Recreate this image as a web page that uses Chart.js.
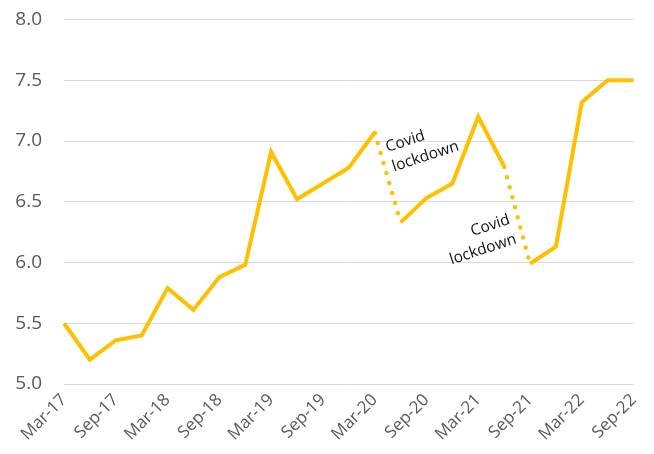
<!DOCTYPE html>
<html>
<head>
<meta charset="utf-8">
<script src="https://cdn.jsdelivr.net/npm/chart.js@4.4.0/dist/chart.umd.min.js"></script>
<style>
  html, body { margin: 0; padding: 0; background: #fff; }
  #wrap { width: 654px; height: 454px; }
</style>
</head>
<body>
<div id="wrap"><canvas id="myChart"></canvas></div>
<script>
// quarterly readings, Mar-17 .. Sep-22
var categories = ['Mar-17','Jun-17','Sep-17','Dec-17','Mar-18','Jun-18','Sep-18','Dec-18',
    'Mar-19','Jun-19','Sep-19','Dec-19','Mar-20','Jun-20','Sep-20','Dec-20',
    'Mar-21','Jun-21','Sep-21','Dec-21','Mar-22','Jun-22','Sep-22'];
var values = [5.50, 5.20, 5.36, 5.40, 5.79, 5.61, 5.88, 5.98,
    6.91, 6.52, 6.65, 6.78, 7.07, 6.33, 6.53, 6.65,
    7.20, 6.79, 5.99, 6.13, 7.32, 7.50, 7.50];
var yTicks = [5.0, 5.5, 6.0, 6.5, 7.0, 7.5, 8.0];
// segments starting at these indices are drawn dotted
var lockdownSegments = [12, 17];
// text notes, anchored in data units (x = category index, y = value)
var notes = [
    { lines: ['Covid', 'lockdown'], x: 12.5, y: 6.91, align: 'left' },
    { lines: ['Covid', 'lockdown'], x: 17.26, y: 6.32, align: 'right' }
];

var gold = '#FFC000';
var grey = '#595959';

function isLockdown(c) {
    return lockdownSegments.indexOf(c.p0DataIndex) >= 0;
}

var notesPlugin = {
    id: 'notes',
    afterDatasetsDraw: function(chart) {
        var ctx = chart.ctx;
        var xs = chart.scales.x, ys = chart.scales.y;
        notes.forEach(function(n) {
            ctx.save();
            ctx.translate(xs.getPixelForValue(n.x), ys.getPixelForValue(n.y));
            ctx.rotate(-18 * Math.PI / 180);
            ctx.font = '15.5px "Open Sans"';
            ctx.fillStyle = '#111';
            ctx.textAlign = n.align;
            ctx.textBaseline = 'alphabetic';
            n.lines.forEach(function(line, i) {
                ctx.fillText(line, 0, i * 20.5);
            });
            ctx.restore();
        });
    }
};

var ctx = document.getElementById('myChart').getContext('2d');
var myChart = new Chart(ctx, {
    type: 'line',
    data: {
        labels: categories,
        datasets: [{
            data: values,
            borderColor: gold,
            borderWidth: 4,
            pointRadius: 0,
            tension: 0,
            segment: {
                borderDash: function(c) { return isLockdown(c) ? [0, 10.4] : undefined; },
                borderDashOffset: function(c) { return isLockdown(c) ? -11 : undefined; },
                borderCapStyle: function(c) { return isLockdown(c) ? 'round' : undefined; },
                borderWidth: function(c) { return isLockdown(c) ? 4.5 : undefined; }
            }
        }]
    },
    plugins: [notesPlugin],
    options: {
        responsive: true,
        maintainAspectRatio: false,
        animation: false,
        layout: { padding: { top: 19.5, right: 16, left: 0, bottom: 0 } },
        plugins: {
            legend: { display: false },
            tooltip: { enabled: false }
        },
        scales: {
            x: {
                offset: false,
                grid: { display: false, drawTicks: false },
                border: { display: false },
                afterFit: function(scale) { scale.height = 70; },
                ticks: {
                    autoSkip: false,
                    maxRotation: 45,
                    minRotation: 45,
                    padding: 6,
                    color: grey,
                    font: { family: 'Open Sans', size: 17 },
                    callback: function(v, i) {
                        return i % 2 === 0 ? categories[i] : '';
                    }
                }
            },
            y: {
                min: yTicks[0],
                max: yTicks[yTicks.length - 1],
                afterFit: function(scale) {
                    scale.width = 64;
                    scale.paddingTop = 0;
                    scale.paddingBottom = 0;
                },
                afterBuildTicks: function(scale) {
                    scale.ticks = yTicks.map(function(v) { return { value: v }; });
                },
                grid: { color: '#d9d9d9', lineWidth: 1, drawTicks: false },
                border: { display: false },
                ticks: {
                    padding: 22,
                    color: grey,
                    font: { family: 'Open Sans', size: 19 },
                    callback: function(v) { return v.toFixed(1); }
                }
            }
        }
    }
});
</script>
</body>
</html>
